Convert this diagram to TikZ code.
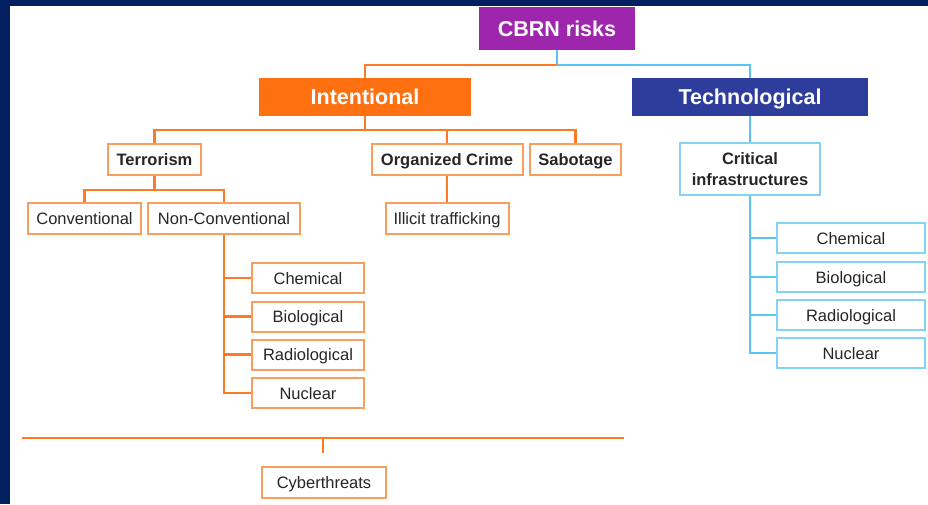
\documentclass[tikz,border=0pt]{standalone}
\usepackage{fontspec}
\setmainfont{Liberation Sans}
\usepackage{tikz}
\usetikzlibrary{calc}
\definecolor{frame}{RGB}{2,32,96}
\definecolor{cbrn}{RGB}{158,38,172}
\definecolor{intent}{RGB}{255,112,16}
\definecolor{techno}{RGB}{46,61,155}
\definecolor{oline}{RGB}{255,122,36}
\definecolor{oborder}{RGB}{250,158,96}
\definecolor{bline}{RGB}{88,198,245}
\definecolor{bborder}{RGB}{132,210,245}
\definecolor{txt}{RGB}{38,38,38}

\begin{document}
\begin{tikzpicture}[x=1pt,y=-1pt,
  head/.style={inner sep=0pt,text=white,text height=15.5pt,text depth=0pt,font=\fontsize{21.5}{24}\selectfont\bfseries},
  orbox/.style={draw=oborder,line width=2pt,fill=white,inner sep=0pt,minimum height=31pt,text=txt,text height=12pt,text depth=0pt,font=\fontsize{16.5}{20}\selectfont},
  blbox/.style={draw=bborder,line width=2pt,fill=white,inner sep=0pt,minimum height=30pt,text=txt,text height=12pt,text depth=0pt,font=\fontsize{16.5}{20}\selectfont},
  oln/.style={draw=oline,line width=2.8pt},
  bln/.style={draw=bline,line width=2.8pt}]
\useasboundingbox (0,0) rectangle (928,504);
\fill[frame] (0,0) rectangle (928,504);
\fill[white] (10,6) rectangle (928,504);

\node[head,fill=cbrn,minimum width=156pt,minimum height=43pt] (cbrn) at (557,28.5) {CBRN risks};
\node[head,fill=intent,minimum width=212pt,minimum height=38pt] (int) at (365,97) {Intentional};
\node[head,fill=techno,minimum width=236pt,minimum height=38pt] (tech) at (750,97) {Technological};

\node[orbox,minimum width=93pt,font=\fontsize{16.5}{20}\selectfont\bfseries] (terr) at (154.5,159) {Terrorism};
\node[orbox,minimum width=151pt,font=\fontsize{16.5}{20}\selectfont\bfseries] (org) at (447,159) {Organized Crime};
\node[orbox,minimum width=91pt,font=\fontsize{16.5}{20}\selectfont\bfseries] (sab) at (575.5,159) {Sabotage};
\node[orbox,minimum width=113pt] (conv) at (84.5,218) {Conventional};
\node[orbox,minimum width=152pt] (nonc) at (224,218) {Non-Conventional};
\node[orbox,minimum width=123pt] (illicit) at (447,218) {Illicit trafficking};
\node[orbox,minimum width=112pt,minimum height=30pt] (nchem) at (308,278) {Chemical};
\node[orbox,minimum width=112pt,minimum height=30pt] (nbio) at (308,316.5) {Biological};
\node[orbox,minimum width=112pt,minimum height=30pt] (nrad) at (308,354.5) {Radiological};
\node[orbox,minimum width=112pt,minimum height=30pt] (nnuc) at (308,393) {Nuclear};
\node[orbox,minimum width=124pt] (cyber) at (324,482.5) {Cyberthreats};

\node[blbox,minimum width=140pt,minimum height=52pt,text height=,text depth=,align=center,font=\fontsize{16.5}{21}\selectfont\bfseries] (crit) at (750,169) {Critical\\infrastructures};
\node[blbox,minimum width=148pt] (tchem) at (851,238) {Chemical};
\node[blbox,minimum width=148pt] (tbio) at (851,277) {Biological};
\node[blbox,minimum width=148pt] (trad) at (851,315) {Radiological};
\node[blbox,minimum width=148pt] (tnuc) at (851,353) {Nuclear};

\coordinate (split) at (557,65);
\coordinate (ij) at (365,130);
\coordinate (tj) at (154.5,190);
\coordinate (barL) at (22,438);
\coordinate (barR) at (624,438);
\coordinate (barM) at ($(barL)!.5!(barR)$);
\coordinate (tick) at (323,453);

\draw[bln] (cbrn.south) -- (split) -| (tech.north);
\draw[oln] (split) -| (int.north);
\draw[oln] (int.south) -- (ij);
\draw[oln] (ij) -| (terr.north);
\draw[oln] (ij) -| (org.north);
\draw[oln] (ij) -| (sab.north);
\draw[oln] (terr.south) -- (tj) -| (conv.north);
\draw[oln] (tj) -| (nonc.north);
\draw[oln] (org.south) -- (illicit.north);
\draw[oln] (nonc.south) |- (nchem.west);
\draw[oln] (nonc.south) |- (nbio.west);
\draw[oln] (nonc.south) |- (nrad.west);
\draw[oln] (nonc.south) |- (nnuc.west);
\draw[oln] (barL) -- (barR);
\draw[oln] (barM) -- (tick);

\draw[bln] (tech.south) -- (crit.north);
\draw[bln] (crit.south) |- (tchem.west);
\draw[bln] (crit.south) |- (tbio.west);
\draw[bln] (crit.south) |- (trad.west);
\draw[bln] (crit.south) |- (tnuc.west);
\end{tikzpicture}
\end{document}
